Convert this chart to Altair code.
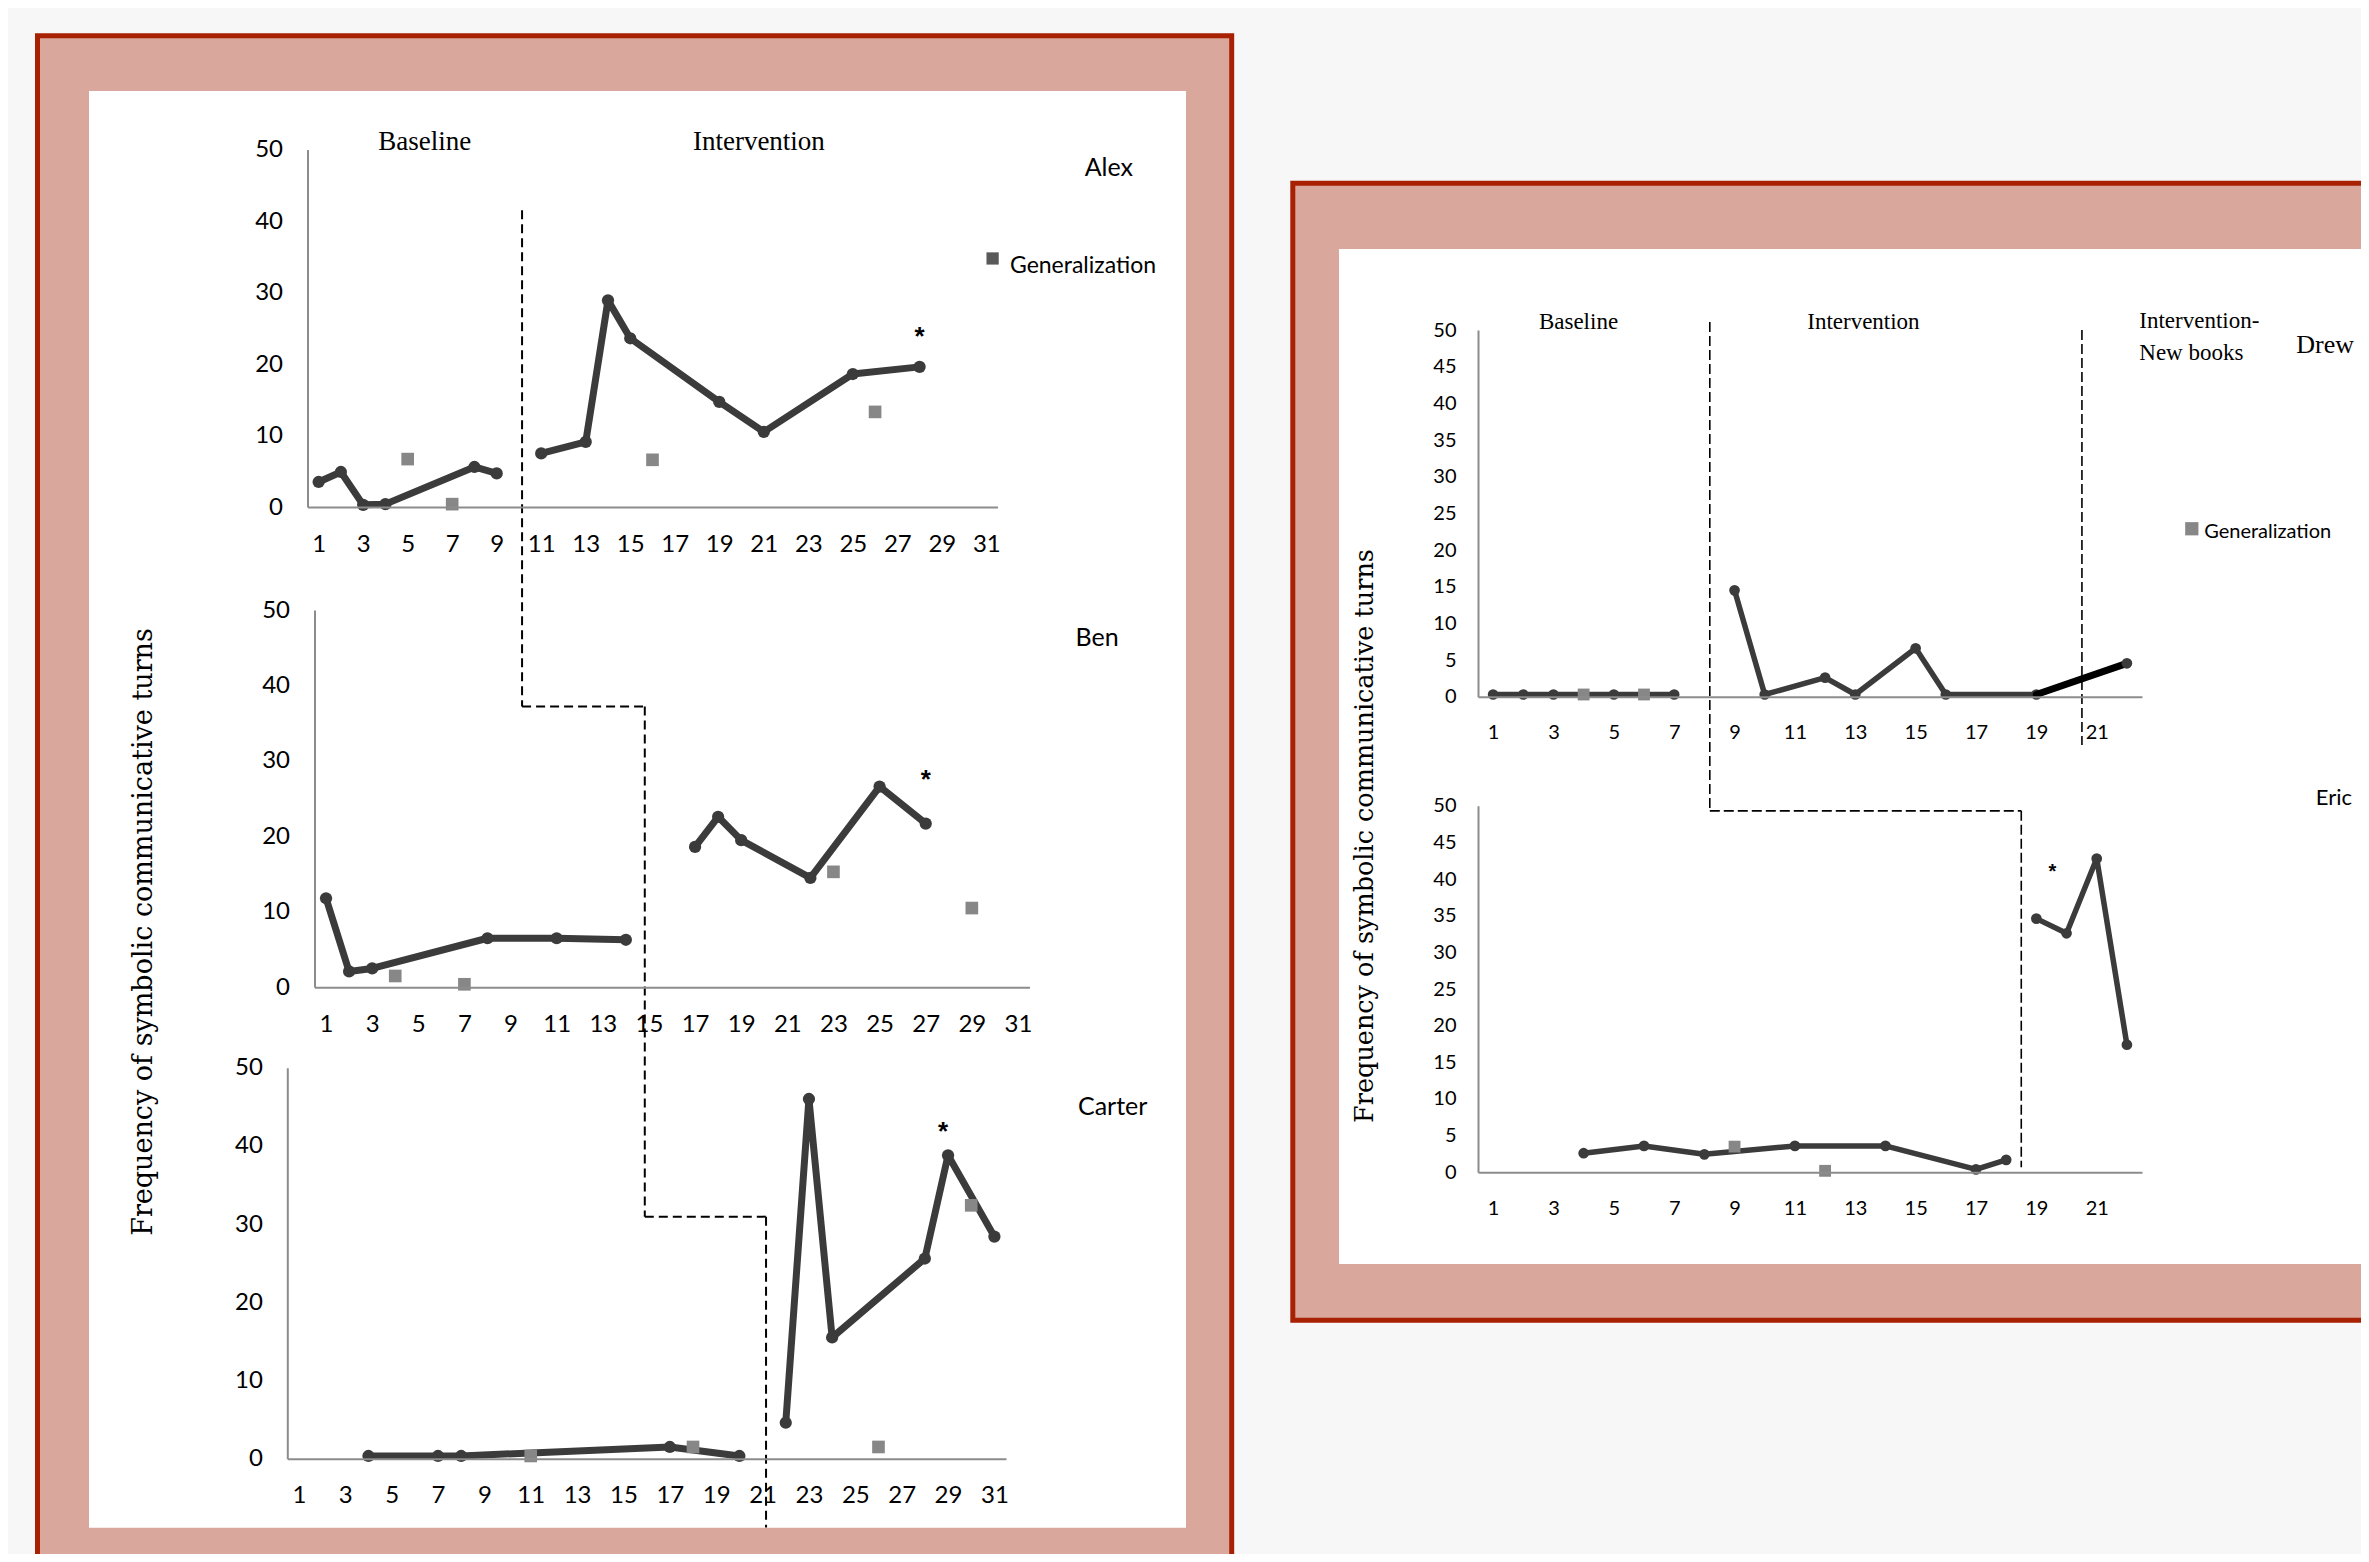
import altair as alt
import pandas as pd

W, H = 2353, 1546
OFF = 8  # page margin

# ---------------- data ----------------
alex_base_x = [1, 2, 3, 4, 8, 9]
alex_base_y = [3.5, 4.9, 0.3, 0.4, 5.6, 4.7]
alex_int_x = [11, 13, 14, 15, 19, 21, 25, 28]
alex_int_y = [7.5, 9.1, 28.9, 23.6, 14.7, 10.5, 18.6, 19.6]
alex_gen_x = [5, 7, 16, 26]
alex_gen_y = [6.7, 0.4, 6.6, 13.3]

ben_base_x = [1, 2, 3, 8, 11, 14]
ben_base_y = [11.8, 2.1, 2.5, 6.5, 6.5, 6.3]
ben_int_x = [17, 18, 19, 22, 25, 27]
ben_int_y = [18.6, 22.6, 19.5, 14.5, 26.6, 21.7]
ben_gen_x = [4, 7, 23, 29]
ben_gen_y = [1.5, 0.4, 15.3, 10.5]

carter_base_x = [4, 7, 8, 17, 20]
carter_base_y = [0.35, 0.35, 0.35, 1.5, 0.35]
carter_int_x = [22, 23, 24, 28, 29, 31]
carter_int_y = [4.6, 46.0, 15.5, 25.6, 38.8, 28.4]
carter_gen_x = [11, 18, 26, 30]
carter_gen_y = [0.35, 1.5, 1.5, 32.4]

drew_base_x = [1, 2, 3, 5, 7]
drew_base_y = [0.3, 0.3, 0.3, 0.3, 0.3]
drew_int_x = [9, 10, 12, 13, 15, 16, 19]
drew_int_y = [14.5, 0.3, 2.6, 0.3, 6.6, 0.3, 0.3]
drew_new_x = [19, 22]
drew_new_y = [0.3, 4.55]
drew_gen_x = [4, 6]
drew_gen_y = [0.3, 0.3]

eric_base_x = [4, 6, 8, 11, 14, 17, 18]
eric_base_y = [2.6, 3.6, 2.45, 3.6, 3.6, 0.4, 1.7]
eric_int_x = [19, 20, 21, 22]
eric_int_y = [34.6, 32.6, 42.8, 17.4]
eric_gen_x = [9, 12]
eric_gen_y = [3.5, 0.2]

ticks_31 = list(range(1, 32, 2))
ticks_21 = list(range(1, 22, 2))
yt_10 = [0, 10, 20, 30, 40, 50]
yt_5 = list(range(0, 51, 5))

Y_TITLE = "Frequency of symbolic communicative turns"

# ---------------- styles ----------------
SANS = "Lato"
SERIF = "Liberation Serif"
TITLE_SERIF = "DejaVu Serif"
LINE_C = "#3b3b3b"
GEN_C = "#878787"
AXIS_C = "#8c8c8c"
PINK = "#d9a79b"
RED = "#a82102"


def series_df(pairs):
    rows = []
    for lab, xs, ys in pairs:
        for a, b in zip(xs, ys):
            rows.append({"x": a, "y": b, "phase": lab})
    return pd.DataFrame(rows)


def panel(geom, phases, gen_x, gen_y, extra, texts, rules, st):
    """Returns a flat list of layers sharing identical explicit scales."""
    x0, x1, y0, y50, xmax, xticks, yticks = geom
    xs = alt.Scale(domain=[0.5, xmax + 0.5], range=[x0 - OFF, x1 - OFF], nice=False, zero=False)
    ys = alt.Scale(domain=[0, 50], range=[y0 - OFF, y50 - OFF], nice=False, zero=False)
    common = dict(domainColor=AXIS_C, domainWidth=2, ticks=False, grid=False,
                  labelFont=SANS, labelFontSize=st["font"], labelColor="black",
                  labelFlush=False, labelOverlap=False, title="", zindex=2)
    xax = alt.Axis(orient="bottom", offset=(y0 - OFF) - H, values=xticks,
                   labelPadding=st["padx"], **common)
    yax = alt.Axis(orient="left", offset=-(x0 - OFF), values=yticks,
                   labelPadding=st["pady"], **common)

    def X(field, axis=False):
        return alt.X(field, type="quantitative", scale=xs, axis=xax if axis else None)

    def Y(field, axis=False):
        return alt.Y(field, type="quantitative", scale=ys, axis=yax if axis else None)

    layers = []
    df = series_df(phases)
    layers.append(alt.Chart(df).mark_line(color=LINE_C, strokeWidth=st["lw"], strokeJoin="round",
                                          strokeCap="round")
                  .encode(x=X("x", True), y=Y("y", True), detail="phase:N"))
    layers.append(alt.Chart(df).mark_circle(color=LINE_C, size=st["dot"], opacity=1)
                  .encode(x=X("x"), y=Y("y")))
    for (ex, ey, col, lw) in extra:
        edf = pd.DataFrame({"x": ex, "y": ey})
        layers.append(alt.Chart(edf).mark_line(color=col, strokeWidth=lw, strokeCap="round")
                      .encode(x=X("x"), y=Y("y")))
        layers.append(alt.Chart(edf.tail(1)).mark_circle(color=LINE_C, size=st["dot"], opacity=1)
                      .encode(x=X("x"), y=Y("y")))
    gdf = pd.DataFrame({"x": gen_x, "y": gen_y})
    layers.append(alt.Chart(gdf).mark_square(color=GEN_C, size=st["sq"], opacity=1)
                  .encode(x=X("x"), y=Y("y")))
    rdf = pd.DataFrame(rules, columns=["x", "x2", "y", "y2"])
    layers.append(alt.Chart(rdf).mark_rule(color="black", strokeWidth=st["dw"], strokeDash=st["dash"])
                  .encode(x=X("x"), x2="x2:Q", y=Y("y"), y2="y2:Q"))
    for t in texts:
        tdf = pd.DataFrame({"x": [t["x"]], "y": [t["y"]], "t": [t["text"]]})
        if t.get("square"):
            layers.append(alt.Chart(tdf).mark_square(color=t["color"], size=t["size"], opacity=1)
                          .encode(x=X("x"), y=Y("y")))
            continue
        layers.append(alt.Chart(tdf).mark_text(font=t["font"], fontSize=t["size"], color="black",
                                               align=t.get("align", "center"),
                                               baseline=t.get("baseline", "middle"),
                                               fontWeight=t.get("weight", "normal"))
                      .encode(x=X("x"), y=Y("y"), text="t:N"))
    return layers


LEFT = dict(font=24, lw=7, dot=150, sq=160, padx=25, pady=25, dw=2, dash=[9, 5])
RIGHT = dict(font=20, lw=5.5, dot=115, sq=140, padx=26, pady=22, dw=1.6, dash=[10, 4])

alex = panel(
    (307.5, 997.5, 507, 149.5, 31, ticks_31, yt_10),
    [("b", alex_base_x, alex_base_y), ("i", alex_int_x, alex_int_y)],
    alex_gen_x, alex_gen_y, [],
    [dict(x=5.77, y=51.1, text="Baseline", font=SERIF, size=27),
     dict(x=20.78, y=51.1, text="Intervention", font=SERIF, size=27),
     dict(x=36.5, y=47.4, text="Alex", font=SANS, size=25),
     dict(x=31.28, y=34.76, text="", square=True, color="#595959", size=150),
     dict(x=32.06, y=33.7, text="Generalization", font=SANS, size=23, align="left"),
     dict(x=28, y=22.7, text="*", font="Liberation Sans", size=26, weight="bold", baseline="alphabetic")],
    [(10.14, 10.14, 41.5, -27.9)],
    LEFT)

ben = panel(
    (314.5, 1029.5, 987.3, 610, 31, ticks_31, yt_10),
    [("b", ben_base_x, ben_base_y), ("i", ben_int_x, ben_int_y)],
    ben_gen_x, ben_gen_y, [],
    [dict(x=34.43, y=46.3, text="Ben", font=SANS, size=25),
     dict(x=27, y=26.4, text="*", font="Liberation Sans", size=26, weight="bold", baseline="alphabetic")],
    [(9.5, 14.82, 37.2, 37.2), (14.82, 14.82, 37.2, -30.4)],
    LEFT)

carter = panel(
    (287.3, 1006, 1458.7, 1067.7, 31, ticks_31, yt_10),
    [("b", carter_base_x, carter_base_y), ("i", carter_int_x, carter_int_y)],
    carter_gen_x, carter_gen_y, [],
    [dict(x=36.1, y=45.0, text="Carter", font=SANS, size=25),
     dict(x=28.78, y=40.75, text="*", font="Liberation Sans", size=26, weight="bold", baseline="alphabetic")],
    [(15.92, 21.15, 30.95, 30.95), (21.15, 21.15, 30.95, -8.8)],
    LEFT)

drew = panel(
    (1478, 2142, 696.7, 330, 22, ticks_21, yt_5),
    [("b", drew_base_x, drew_base_y), ("i", drew_int_x, drew_int_y)],
    drew_gen_x, drew_gen_y, [(drew_new_x, drew_new_y, "black", 7)],
    [dict(x=3.83, y=51.1, text="Baseline", font=SERIF, size=23),
     dict(x=13.27, y=51.1, text="Intervention", font=SERIF, size=23),
     dict(x=22.41, y=51.25, text="Intervention-", font=SERIF, size=23, align="left"),
     dict(x=22.41, y=46.9, text="New books", font=SERIF, size=23, align="left"),
     dict(x=28.57, y=47.95, text="Drew", font=SERIF, size=26),
     dict(x=24.15, y=22.9, text="", square=True, color=GEN_C, size=175),
     dict(x=24.56, y=22.4, text="Generalization", font=SANS, size=20, align="left")],
    [(8.18, 8.18, 51.1, -15.5), (20.51, 20.51, 50, -6.6)],
    RIGHT)

eric = panel(
    (1478, 2142, 1172.3, 805.7, 22, ticks_21, yt_5),
    [("b", eric_base_x, eric_base_y), ("i", eric_int_x, eric_int_y)],
    eric_gen_x, eric_gen_y, [],
    [dict(x=28.86, y=51.0, text="Eric", font=SANS, size=22),
     dict(x=19.53, y=40.1, text="*", font="Liberation Sans", size=20, weight="bold", baseline="alphabetic")],
    [(8.18, 18.5, 49.3, 49.3), (18.5, 18.5, 49.3, 0.7)],
    RIGHT)

one = pd.DataFrame({"k": [0]})


def rect(x, x2, y, y2, fill, stroke=None, sw=0):
    kw = dict(fill=fill, opacity=1)
    if stroke:
        kw.update(stroke=stroke, strokeWidth=sw)
    return alt.Chart(one).mark_rect(**kw).encode(
        x=alt.value(x), x2=alt.value(x2), y=alt.value(y), y2=alt.value(y2))


frames = [
    rect(29.5, 1223.7, 27.8, 1600, PINK, RED, 5),
    rect(81, 1178, 83, 1519.7, "white"),
    rect(1284.8, 2450, 175.2, 1312.2, PINK, RED, 5),
    rect(1331, 2450, 241, 1256, "white"),
]

ytitles = [
    alt.Chart(pd.DataFrame({"t": [Y_TITLE]})).mark_text(font=TITLE_SERIF, fontSize=27, angle=270,
                                                        color="black")
    .encode(x=alt.value(135.5), y=alt.value(924), text="t:N"),
    alt.Chart(pd.DataFrame({"t": [Y_TITLE]})).mark_text(font=TITLE_SERIF, fontSize=25.5, angle=270,
                                                        color="black")
    .encode(x=alt.value(1356.5), y=alt.value(828), text="t:N"),
]

chart = (
    alt.layer(*frames, *alex, *ben, *carter, *drew, *eric, *ytitles)
    .resolve_scale(x="independent", y="independent")
    .resolve_axis(x="independent", y="independent")
    .properties(width=W, height=H, autosize=alt.AutoSizeParams(type="none"),
                padding=0, background="#f7f7f7")
    .configure_view(stroke="transparent")
)

chart.save("out.html", embed_options={"renderer": "svg", "actions": False})
